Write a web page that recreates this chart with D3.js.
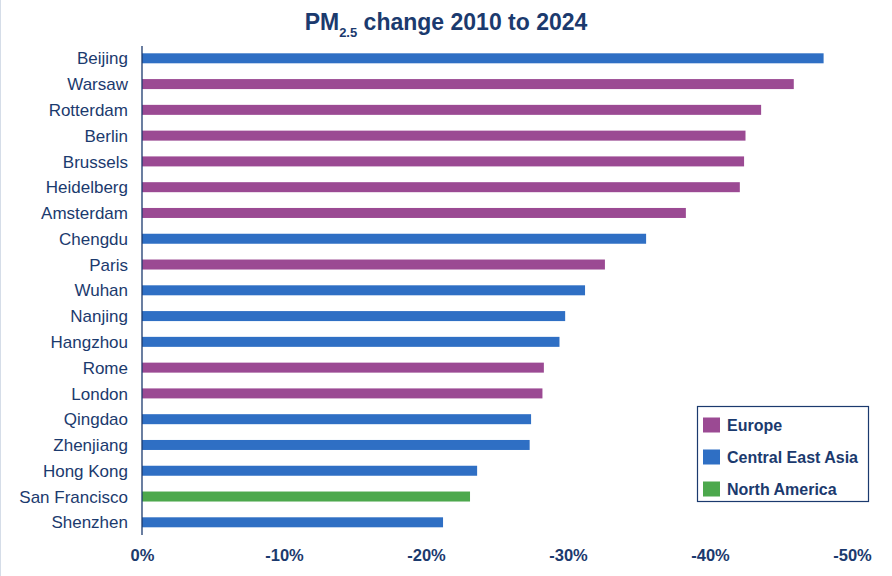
<!DOCTYPE html>
<html>
<head>
<meta charset="utf-8">
<script src="https://cdn.jsdelivr.net/npm/d3@7"></script>
<style>
  body { margin: 0; background: #fff; }
  text { font-family: "Liberation Sans", Arial, sans-serif; fill: #1b3a6e; }
</style>
</head>
<body>
<div id="chart"></div>
<script>
const cities = ["Beijing", "Warsaw", "Rotterdam", "Berlin", "Brussels", "Heidelberg",
  "Amsterdam", "Chengdu", "Paris", "Wuhan", "Nanjing", "Hangzhou", "Rome", "London",
  "Qingdao", "Zhenjiang", "Hong Kong", "San Francisco", "Shenzhen"];
const change = [-48.0, -45.9, -43.6, -42.5, -42.4, -42.1, -38.3, -35.5, -32.6, -31.2,
  -29.8, -29.4, -28.3, -28.2, -27.4, -27.3, -23.6, -23.1, -21.2];
const region = ["Central East Asia", "Europe", "Europe", "Europe", "Europe", "Europe",
  "Europe", "Central East Asia", "Europe", "Central East Asia", "Central East Asia",
  "Central East Asia", "Europe", "Europe", "Central East Asia", "Central East Asia",
  "Central East Asia", "North America", "Central East Asia"];
const regions = ["Europe", "Central East Asia", "North America"];
const regionColors = ["#9b4a93", "#2f6fc4", "#4ca84c"];
const ticks = [0, -10, -20, -30, -40, -50];

const W = 892, H = 576;
const navy = "#1b3a6e";

const svg = d3.select("#chart").append("svg")
  .attr("width", W)
  .attr("height", H);

// faint frame edge on the left
svg.append("line")
  .attr("x1", 0.5).attr("x2", 0.5).attr("y1", 0).attr("y2", H)
  .attr("stroke", "#d5dde8").attr("stroke-width", 1);

const x = d3.scaleLinear().domain([0, -50]).range([142, 852]);
const y = d3.scalePoint().domain(cities).range([58.3, 522.3]);
const color = d3.scaleOrdinal().domain(regions).range(regionColors);

const rows = cities.map((c, i) => ({city: c, value: change[i], region: region[i]}));

// title
const title = svg.append("text")
  .attr("x", 446).attr("y", 30)
  .attr("text-anchor", "middle")
  .attr("font-size", 23)
  .attr("font-weight", "bold");
title.append("tspan").text("PM");
title.append("tspan").attr("font-size", 13).attr("dy", 7).text("2.5");
title.append("tspan").attr("dy", -7).text(" change 2010 to 2024");

// bars
svg.selectAll("rect.bar")
  .data(rows)
  .enter().append("rect")
  .attr("class", "bar")
  .attr("x", x(0))
  .attr("y", d => y(d.city) - 5)
  .attr("width", d => x(d.value) - x(0))
  .attr("height", 10)
  .attr("fill", d => color(d.region));

// city labels
svg.selectAll("text.city")
  .data(rows)
  .enter().append("text")
  .attr("class", "city")
  .attr("x", 128)
  .attr("y", d => y(d.city))
  .attr("dy", "0.36em")
  .attr("text-anchor", "end")
  .attr("font-size", 17)
  .text(d => d.city);

// vertical axis line
svg.append("line")
  .attr("x1", x(0)).attr("x2", x(0))
  .attr("y1", 46).attr("y2", 535)
  .attr("stroke", navy).attr("stroke-width", 1.3);

// x axis labels
const xAxis = d3.axisBottom(x)
  .tickValues(ticks)
  .tickSize(0)
  .tickPadding(0)
  .tickFormat(d => d === 0 ? "0%" : d + "%");

const gx = svg.append("g")
  .attr("transform", "translate(0,549)")
  .call(xAxis);
gx.select(".domain").remove();
gx.selectAll("text")
  .attr("font-size", 16.5)
  .attr("font-weight", "bold")
  .attr("font-family", "'Liberation Sans', Arial, sans-serif")
  .attr("fill", navy);

// legend
const legend = svg.append("g");
legend.append("rect")
  .attr("x", 697.5).attr("y", 406.5)
  .attr("width", 171).attr("height", 95)
  .attr("fill", "#fff")
  .attr("stroke", navy).attr("stroke-width", 1.2);

const item = legend.selectAll("g.item")
  .data(regions)
  .enter().append("g")
  .attr("class", "item")
  .attr("transform", (d, i) => "translate(703," + (425 + i * 32) + ")");
item.append("rect")
  .attr("x", 0).attr("y", -7.5)
  .attr("width", 17).attr("height", 15)
  .attr("fill", d => color(d));
item.append("text")
  .attr("x", 24).attr("y", 0)
  .attr("dy", "0.36em")
  .attr("font-size", 16)
  .attr("font-weight", "bold")
  .text(d => d);
</script>
</body>
</html>
